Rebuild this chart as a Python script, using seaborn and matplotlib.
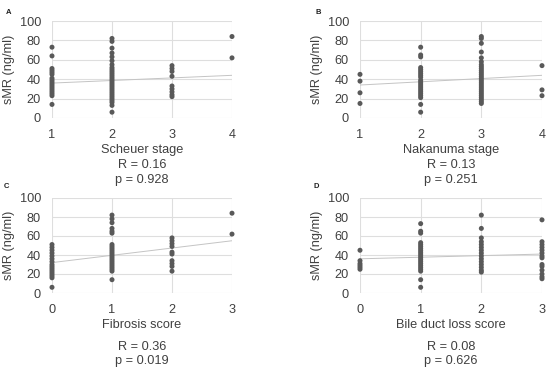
import numpy as np
import pandas as pd
import matplotlib
matplotlib.use("Agg")
import matplotlib.pyplot as plt
import seaborn as sns

# ---- data ----
panel_letters = ["A", "B", "C", "D"]
x_labels = ["Scheuer stage", "Nakanuma stage", "Fibrosis score", "Bile duct loss score"]
r_texts = ["R = 0.16", "R = 0.13", "R = 0.36", "R = 0.08"]
p_texts = ["p = 0.928", "p = 0.251", "p = 0.019", "p = 0.626"]

scheuer_cats = [1, 2, 3, 4]
scheuer_vals = [
    [73, 64, 51, 49, 47, 45, 41, 39, 37, 35, 33, 31, 29, 27, 25, 23, 14],
    [82, 79, 72, 67, 63, 59, 55, 52, 50, 48, 46, 44, 42, 40, 38, 36, 34, 32, 30,
     28, 26, 24, 22, 20, 18, 16, 13, 6],
    [54, 51, 48, 43, 33, 30, 27, 24, 22],
    [84, 62],
]
scheuer_trend_x = [1, 4]
scheuer_trend_y = [36, 44]

nakanuma_cats = [1, 2, 3, 4]
nakanuma_vals = [
    [45, 38, 26, 15],
    [73, 65, 63, 52, 50, 48, 46, 44, 42, 39, 37, 35, 33, 31, 29, 27, 25, 23, 21, 14, 6],
    [84, 82, 77, 68, 62, 58, 55, 53, 51, 49, 47, 45, 43, 41, 39, 37, 35, 33, 31,
     29, 27, 25, 23, 21, 19, 17, 15],
    [54, 29, 23],
]
nakanuma_trend_x = [1, 4]
nakanuma_trend_y = [34, 44]

fibrosis_cats = [0, 1, 2, 3]
fibrosis_vals = [
    [51, 48, 45, 42, 39, 36, 33, 30, 28, 26, 24, 22, 20, 18, 16, 6],
    [82, 78, 74, 68, 65, 63, 51, 49, 47, 45, 43, 41, 39, 37, 35, 33, 31, 29, 27,
     25, 23, 14],
    [58, 55, 52, 49, 43, 41, 34, 31, 28, 23],
    [84, 62],
]
fibrosis_trend_x = [0, 3]
fibrosis_trend_y = [32, 55]

bileduct_cats = [0, 1, 2, 3]
bileduct_vals = [
    [45, 34, 31, 29, 27, 25],
    [73, 65, 63, 53, 51, 49, 47, 45, 43, 41, 39, 37, 35, 33, 31, 29, 27, 25, 23, 14, 6],
    [82, 68, 58, 54, 51, 48, 45, 42, 39, 36, 33, 30, 27, 24, 22],
    [77, 54, 51, 48, 45, 42, 39, 37, 30, 28, 24, 20, 17, 15],
]
bileduct_trend_x = [0, 3]
bileduct_trend_y = [36, 41]

y_ticks = [0, 20, 40, 60, 80, 100]
y_label = "sMR (ng/ml)"

panels = [
    (scheuer_cats, scheuer_vals, scheuer_trend_x, scheuer_trend_y),
    (nakanuma_cats, nakanuma_vals, nakanuma_trend_x, nakanuma_trend_y),
    (fibrosis_cats, fibrosis_vals, fibrosis_trend_x, fibrosis_trend_y),
    (bileduct_cats, bileduct_vals, bileduct_trend_x, bileduct_trend_y),
]

# ---- style ----
sns.set_theme(style="white")
plt.rcParams["font.family"] = ["Liberation Sans", "DejaVu Sans"]

W, H = 550, 371
fig = plt.figure(figsize=(W / 100, H / 100), dpi=100)

# axes boxes in pixel coordinates (left, right, top, bottom)
boxes = [(52, 232, 21, 118), (360, 542, 21, 118), (52, 232, 198, 293), (360, 542, 198, 293)]
letter_pos = [(6, 12), (315, 12), (4, 187), (313, 187)]
text_rows = [(150, 165, 180), (150, 165, 180), (325, 347, 361), (325, 347, 361)]

text_color = "#404040"
point_color = "#595959"
grid_color = "#dedede"
trend_color = "#c4c4c4"
fs = 9.2

for i, (cats, vals, tx, ty) in enumerate(panels):
    l, r, t, b = boxes[i]
    ax = fig.add_axes([l / W, 1 - b / H, (r - l) / W, (b - t) / H])
    xs, ys = [], []
    for c, v in zip(cats, vals):
        xs += [c] * len(v)
        ys += v
    df = pd.DataFrame({"x": xs, "y": ys})
    sns.lineplot(x=tx, y=ty, ax=ax, color=trend_color, linewidth=0.7, zorder=2)
    sns.scatterplot(data=df, x="x", y="y", ax=ax, color=point_color, s=13,
                    edgecolor="none", linewidth=0, zorder=3, clip_on=False)
    ax.set_xlim(cats[0], cats[-1])
    ax.set_ylim(0, 100)
    ax.set_xticks(cats)
    ax.set_yticks(y_ticks)
    ax.grid(True, color=grid_color, linewidth=0.8)
    ax.set_axisbelow(True)
    for s in ax.spines.values():
        s.set_visible(False)
    ax.tick_params(axis="y", length=0, labelsize=fs, colors=text_color, pad=8)
    ax.tick_params(axis="x", length=0, labelsize=fs, colors=text_color, pad=8)
    ax.set_xlabel("")
    ax.set_ylabel(y_label, fontsize=fs, color=text_color, labelpad=3)
    cx = (l + r) / 2 / W
    xl, rr, pp = text_rows[i]
    fig.text(cx, 1 - xl / H, x_labels[i], ha="center", va="center", fontsize=fs, color=text_color)
    fig.text(cx, 1 - rr / H, r_texts[i], ha="center", va="center", fontsize=fs, color=text_color)
    fig.text(cx, 1 - pp / H, p_texts[i], ha="center", va="center", fontsize=fs, color=text_color)
    lx, ly = letter_pos[i]
    fig.text(lx / W, 1 - ly / H, panel_letters[i], ha="left", va="center", fontsize=5.5,
             fontweight="bold", color="#202020")

fig.savefig("out.png", dpi=100)
